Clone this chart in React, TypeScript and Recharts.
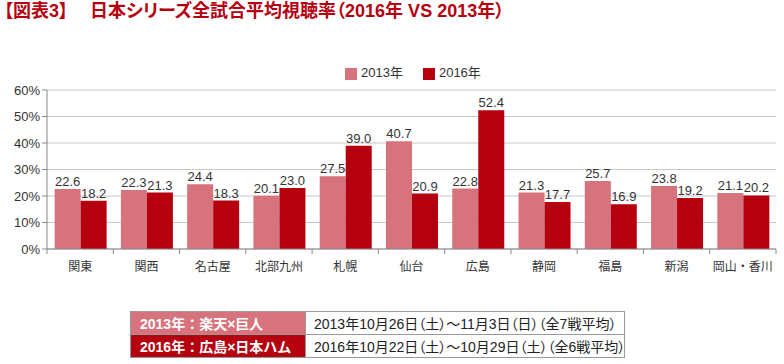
import { BarChart, Bar, XAxis, YAxis, CartesianGrid, Legend, LabelList } from 'recharts';

const regions = ['関東', '関西', '名古屋', '北部九州', '札幌', '仙台', '広島', '静岡', '福島', '新潟', '岡山・香川'];
const rating2013 = [22.6, 22.3, 24.4, 20.1, 27.5, 40.7, 22.8, 21.3, 25.7, 23.8, 21.1];
const rating2016 = [18.2, 21.3, 18.3, 23.0, 39.0, 20.9, 52.4, 17.7, 16.9, 19.2, 20.2];
const yTicks = [0, 10, 20, 30, 40, 50, 60];

const tableRows = [
  { label: '2013年：楽天×巨人', period: '2013年10月26日（土）～11月3日（日）（全7戦平均）' },
  { label: '2016年：広島×日本ハム', period: '2016年10月22日（土）～10月29日（土）（全6戦平均）' },
];

const data = regions.map((name, i) => ({ name, y2013: rating2013[i], y2016: rating2016[i] }));

const LIGHT = '#d6737c';
const DARK = '#b50010';
const FONT = '"Liberation Sans", "Noto Sans CJK JP", sans-serif';

function RegionTick(props: any) {
  const { x, y, payload, index } = props;
  const half = payload.offset || 0;
  const axisY = y - 9;
  return (
    <g>
      <line x1={x - half} x2={x - half} y1={axisY} y2={axisY + 5} stroke="#888" />
      {index === regions.length - 1 && (
        <line x1={x + half} x2={x + half} y1={axisY} y2={axisY + 5} stroke="#888" />
      )}
      <text x={x} y={y + 4} dy="0.71em" textAnchor="middle" fontSize={12} fill="#333" fontFamily={FONT}>
        {payload.value}
      </text>
    </g>
  );
}

export default function App() {
  const titleStyle = {
    position: 'absolute' as const,
    top: 0,
    fontSize: 18,
    fontWeight: 'bold' as const,
    color: DARK,
    whiteSpace: 'nowrap' as const,
    lineHeight: '22px',
    fontFeatureSettings: '"palt"',
  };
  return (
    <div style={{ position: 'absolute', left: 0, top: 0, width: 784, height: 364, background: '#fff', fontFamily: FONT }}>
      <div style={{ ...titleStyle, left: 4 }}>【図表3】</div>
      <div style={{ ...titleStyle, left: 90 }}>日本シリーズ全試合平均視聴率（2016年 VS 2013年）</div>
      <div style={{ position: 'absolute', left: 0, top: 0 }}>
        <BarChart
          width={784}
          height={290}
          data={data}
          margin={{ top: 90, right: 8, left: 0, bottom: 0 }}
          barCategoryGap="11.5%"
          barGap={0}
        >
          <CartesianGrid vertical={false} stroke="#c8c8c8" />
          <XAxis
            dataKey="name"
            height={41}
            tickLine={false}
            axisLine={{ stroke: '#888' }}
            tickSize={5}
            tickMargin={4}
            interval={0}
            tick={<RegionTick />}
          />
          <YAxis
            width={47}
            domain={[0, 60]}
            ticks={yTicks}
            tickFormatter={(v) => `${v}%`}
            axisLine={{ stroke: '#888' }}
            tickLine={{ stroke: '#888' }}
            tickSize={5}
            tick={{ fontSize: 13, fill: '#333', fontFamily: FONT }}
          />
          <Legend
            verticalAlign="middle"
            align="center"
            layout="horizontal"
            iconType="square"
            iconSize={12}
            wrapperStyle={{ top: 62, left: 345, width: 'auto', fontSize: 13, fontFamily: FONT }}
            formatter={(value) => <span style={{ color: '#333', marginRight: 10 }}>{value}</span>}
          />
          <Bar dataKey="y2013" name="2013年" fill={LIGHT} isAnimationActive={false}>
            <LabelList dataKey="y2013" position="top" offset={3} fontSize={13} fill="#333" fontFamily={FONT} formatter={(v: any) => Number(v).toFixed(1)} />
          </Bar>
          <Bar dataKey="y2016" name="2016年" fill={DARK} isAnimationActive={false}>
            <LabelList dataKey="y2016" position="top" offset={3} fontSize={13} fill="#333" fontFamily={FONT} formatter={(v: any) => Number(v).toFixed(1)} />
          </Bar>
        </BarChart>
      </div>
      <table
        style={{
          position: 'absolute',
          left: 130,
          top: 311,
          width: 494,
          borderCollapse: 'collapse',
          tableLayout: 'fixed',
          fontFamily: FONT,
        }}
      >
        <colgroup>
          <col style={{ width: 175 }} />
          <col style={{ width: 319 }} />
        </colgroup>
        <tbody>
          {tableRows.map((row, i) => (
            <tr key={row.label} style={{ height: 23 }}>
              <td
                style={{
                  background: i === 0 ? LIGHT : DARK,
                  color: '#fff',
                  fontWeight: 'bold',
                  fontSize: 14,
                  padding: '0 0 0 9px',
                  border: '1px solid #999',
                  whiteSpace: 'nowrap',
                  overflow: 'hidden',
                }}
              >
                {row.label}
              </td>
              <td
                style={{
                  color: '#222',
                  fontSize: 14,
                  padding: '0 0 0 8px',
                  border: '1px solid #999',
                  whiteSpace: 'nowrap',
                  overflow: 'hidden',
                  fontFeatureSettings: '"palt"',
                }}
              >
                {row.period}
              </td>
            </tr>
          ))}
        </tbody>
      </table>
    </div>
  );
}
